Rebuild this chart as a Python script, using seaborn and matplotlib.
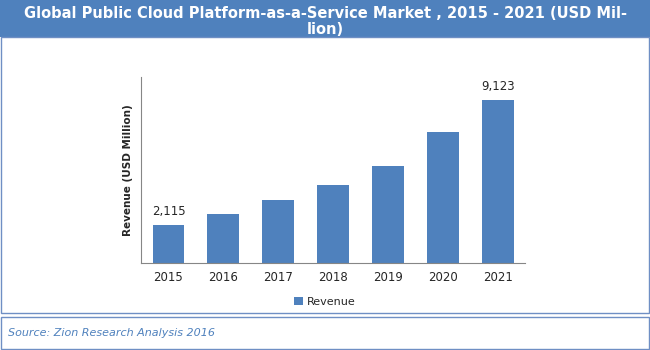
import numpy as np
import pandas as pd
import matplotlib
matplotlib.use("Agg")
import matplotlib.pyplot as plt
import seaborn as sns
from matplotlib.patches import Rectangle

years = ["2015", "2016", "2017", "2018", "2019", "2020", "2021"]
revenue = [2115, 2744, 3528, 4368, 5432, 7297, 9123]
labelled = ["2015", "2021"]
series_name = "Revenue"

blue = "#4F81BD"

sns.set_style("white")
plt.rcParams["font.family"] = ["DejaVu Sans"]

df = pd.DataFrame({"year": years, "revenue": revenue, "series": series_name})

fig = plt.figure(figsize=(6.5, 3.5), dpi=100)
ax = fig.add_axes([0.217, 0.249, 0.591, 0.531])

sns.barplot(data=df, x="year", y="revenue", hue="series", palette=[blue],
            width=0.58, saturation=1, linewidth=0, ax=ax)

ax.set_xlim(-0.5, len(years) - 0.5)
ax.set_ylim(0, 10400)
ax.set_yticks([])
ax.set_xlabel("")
ax.set_ylabel("Revenue (USD Million)", fontsize=7.5, fontweight="bold", labelpad=6)
ax.tick_params(axis="x", length=0, labelsize=8.5, pad=6)
for s in ["top", "right"]:
    ax.spines[s].set_visible(False)
for s in ["left", "bottom"]:
    ax.spines[s].set_color("#868686")
    ax.spines[s].set_linewidth(0.8)

for i, (y, v) in enumerate(zip(years, revenue)):
    if y in labelled:
        ax.annotate(f"{v:,}", (i, v), xytext=(0, 5), textcoords="offset points",
                    ha="center", va="bottom", fontsize=8.5)

ax.legend(loc="center", bbox_to_anchor=(0.5, 0.137), bbox_transform=fig.transFigure,
          frameon=False, fontsize=8, handlelength=0.8, handleheight=0.8,
          handletextpad=0.4)

# header band
fig.patches.append(Rectangle((0, 1 - 37 / 350), 1, 37 / 350, transform=fig.transFigure,
                             facecolor=blue, edgecolor="none", zorder=0))
fig.text(0.5, 1 - 13 / 350,
         "Global Public Cloud Platform-as-a-Service Market , 2015 - 2021 (USD Mil-",
         ha="center", va="center", color="white", fontsize=10.5, fontweight="bold")
fig.text(0.5, 1 - 29.5 / 350, "lion)", ha="center", va="center", color="white",
         fontsize=10.5, fontweight="bold")

# chart frame
fig.patches.append(Rectangle((0.5 / 650, 1 - 313 / 350), 648 / 650, 276 / 350,
                             transform=fig.transFigure, facecolor="none",
                             edgecolor="#6F8FC4", linewidth=1.0, zorder=0))
# footer box
fig.patches.append(Rectangle((0.5 / 650, 1.5 / 350), 648 / 650, 32 / 350,
                             transform=fig.transFigure, facecolor="white",
                             edgecolor="#6F8FC4", linewidth=1.0, zorder=0))
fig.text(8 / 650, 1 - 333 / 350, "Source: Zion Research Analysis 2016", ha="left",
         va="center", color=blue, fontsize=8, fontstyle="italic")

fig.savefig("out.png", dpi=100, facecolor="white")
